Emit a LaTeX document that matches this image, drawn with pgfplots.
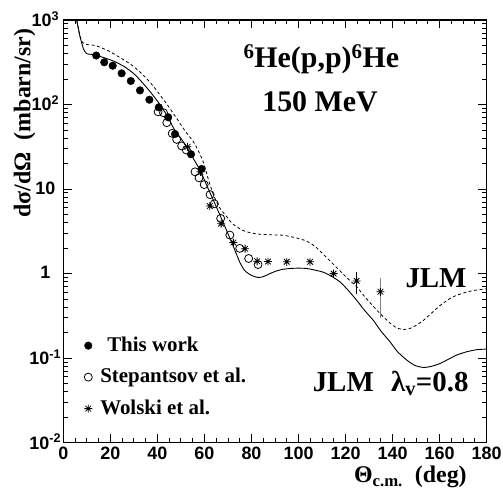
\documentclass[border=0pt]{standalone}
\usepackage{fontspec}
\setmainfont{Liberation Serif}
\setsansfont{Liberation Sans}
\usepackage{pgfplots}
\pgfplotsset{compat=1.18}

% ROOT-style asterisk: + and x together
\pgfdeclareplotmark{ast8}{%
  \pgfpathmoveto{\pgfqpoint{-\pgfplotmarksize}{0pt}}%
  \pgfpathlineto{\pgfqpoint{\pgfplotmarksize}{0pt}}%
  \pgfpathmoveto{\pgfqpoint{0pt}{-\pgfplotmarksize}}%
  \pgfpathlineto{\pgfqpoint{0pt}{\pgfplotmarksize}}%
  \pgfpathmoveto{\pgfqpoint{-0.707\pgfplotmarksize}{-0.707\pgfplotmarksize}}%
  \pgfpathlineto{\pgfqpoint{0.707\pgfplotmarksize}{0.707\pgfplotmarksize}}%
  \pgfpathmoveto{\pgfqpoint{-0.707\pgfplotmarksize}{0.707\pgfplotmarksize}}%
  \pgfpathlineto{\pgfqpoint{0.707\pgfplotmarksize}{-0.707\pgfplotmarksize}}%
  \pgfusepathqstroke}

\begin{document}
\begin{tikzpicture}
\useasboundingbox (-63.3bp,-46.3bp) rectangle (439.7bp,442.7bp);
\begin{axis}[
  scale only axis,
  width=423.4bp, height=422.7bp,
  xmin=0, xmax=180, ymin=0.01, ymax=1000,
  ymode=log,
  xtick={0,20,...,180}, minor x tick num=3,
  ytick={0.01,0.1,1,10,100,1000},
  yticklabels={10\textsuperscript{-2},10\textsuperscript{-1},1,10,10\textsuperscript{2},10\textsuperscript{3}},
  tick align=inside, tick pos=both,
  major tick length=8.5bp, minor tick length=4.5bp,
  axis line style={line width=1.3bp},
  every tick/.style={black, line width=0.9bp},
  /pgf/number format/assume math mode=true,
  ticklabel style={font=\sffamily\bfseries\fontsize{18}{18}\selectfont},
  yticklabel style={anchor=center, xshift=-18bp, yshift=1bp},
  xticklabel style={yshift=-1bp},
  xlabel={Θ\textsubscript{c.m.}\ \ (deg)},
  xlabel style={at={(axis description cs:0.961,-0.095)}, anchor=base east,
    font=\bfseries\fontsize{24}{24}\selectfont},
  ylabel={dσ/dΩ\ \ (mbarn/sr)},
  ylabel style={at={(axis description cs:-0.078,0.988)}, anchor=base east,
    font=\bfseries\fontsize{24}{24}\selectfont},
  legend style={at={(axis description cs:0.042,0.262)}, anchor=north west,
    draw=none, fill=none, font=\bfseries\fontsize{21}{24}\selectfont,
    row sep=8.5bp, nodes={text height=15bp, text depth=4bp}},
  legend cell align=left,
]
% JLM lambda_v = 0.8 (solid)
\addplot[forget plot, black, line width=0.9bp, smooth, tension=0.4] coordinates {
(5.7,1000) (7.1,640) (8.5,462) (9.9,400) (12.8,390) (16,368) (19,345)
(22,321) (26,280) (29.8,234) (33,190) (36.9,142) (40,110) (44,75)
(47,52) (51,36.3) (54.5,25) (58.1,16.8) (61,11) (63.8,7.4) (66.5,5)
(69.5,3.2) (72,2.2) (75.1,1.35) (77,1.1) (78.7,1.0) (80.5,0.94)
(82.8,0.90) (85,0.92) (87.5,0.99) (90,1.06) (93,1.12) (96.4,1.15)
(100,1.16) (103.5,1.15) (107,1.10) (110.5,1.04) (114,0.93) (117.6,0.80)
(121,0.64) (124.7,0.485) (128,0.37) (131.8,0.28) (135,0.21) (138.9,0.156)
(142,0.12) (146,0.095) (149.5,0.082) (153.1,0.0776) (156.5,0.080)
(160.2,0.0865) (164,0.098) (167.3,0.109) (171.5,0.119) (175.8,0.126) (180,0.128)
};
% JLM (dashed)
\addplot[forget plot, black, line width=0.8bp, dash pattern=on 3bp off 2.5bp, smooth, tension=0.4] coordinates {
(5.7,1000) (7.1,640) (8.2,540) (9.5,515) (11.4,508) (13.5,500) (16,472)
(19.9,422) (23,375) (27,321) (30,280) (34,223) (37.5,175) (41.1,130)
(44.5,97) (48.2,68.7) (51.5,50) (55.3,36.3) (57.5,28) (59.5,21) (61.5,13.5)
(63.8,8.6) (66.5,6.0) (69.5,4.7) (71.5,4.0) (73.7,3.58) (76,3.28) (78,3.12)
(82.2,2.95) (88,2.88) (93,2.85) (96.4,2.75) (100,2.6) (103.5,2.42)
(107,2.1) (110.5,1.7) (114,1.36) (117.6,1.08) (121,0.87) (124.7,0.70)
(128,0.54) (131.8,0.41) (135,0.33) (138.9,0.26) (141.5,0.23) (144.6,0.218)
(148,0.228) (151,0.255) (153.1,0.28) (156.5,0.34) (160.2,0.42) (164,0.50)
(167.3,0.556) (171.5,0.605) (175,0.635) (180,0.66)
};
% This work
\addplot[only marks, mark=*, mark size=3.8bp, black] coordinates {
(14.0,380) (17.4,316) (21.0,288) (24.8,234) (28.7,190) (32.6,147)
(36.6,114) (40.6,92.7) (44.6,70.6) (47.5,44.8) (54.3,25.8) (58.8,17.3)
};
\addlegendentry{\hspace{13bp}This work}
% Stepantsov et al.
\addplot[only marks, mark=o, mark size=4bp, black, line width=0.8bp] coordinates {
(40.3,82) (42.6,80) (44.0,61) (46.3,45.6) (48.2,38.7) (50.3,32.4) (52.3,29)
(56.0,16) (57.7,13.6) (59.9,11.3) (62.4,8.6) (64.2,6.7) (66.9,4.5)
(70.8,2.86) (75.0,1.99) (78.8,1.51) (82.8,1.28)
};
\addlegendentry{\hspace{6bp}Stepantsov et al.}
% Wolski et al.
\addplot[only marks, mark=ast8, mark size=4bp, black, line width=0.8bp] coordinates {
(52.8,31.6) (58.3,16) (62.3,6.3) (67.1,3.9) (72.3,2.33) (77.3,1.97)
(82.4,1.40) (87.0,1.39) (95.0,1.38) (104.9,1.38) (114.9,1.0)
};
\addlegendentry{\hspace{6bp}Wolski et al.}
\addplot[forget plot, only marks, mark=ast8, mark size=4bp, black, line width=0.8bp,
  error bars/.cd, y dir=both, y explicit, error mark=none,
  error bar style={line width=0.9bp, black}]
  table[x=x, y=y, y error plus=ep, y error minus=em, row sep=\\] {
x y ep em\\
124.7 0.82 0.23 0.25\\
};
\addplot[forget plot, only marks, mark=ast8, mark size=4bp, black, line width=0.8bp,
  error bars/.cd, y dir=both, y explicit, error mark=none,
  error bar style={line width=1.1bp, gray}]
  table[x=x, y=y, y error plus=ep, y error minus=em, row sep=\\] {
x y ep em\\
134.8 0.61 0.28 0.31\\
};
\node[anchor=base west, font=\bfseries\fontsize{30}{30}\selectfont]
  at (axis description cs:0.4173,0.8888) {\textsuperscript{6}He(p,p)\textsuperscript{6}He};
\node[anchor=base, font=\bfseries\fontsize{30}{30}\selectfont]
  at (axis description cs:0.6063,0.7824) {150 MeV};
\node[anchor=base east, font=\bfseries\fontsize{29}{29}\selectfont]
  at (axis description cs:0.9606,0.3683) {JLM};
\node[anchor=base east, font=\bfseries\fontsize{29}{29}\selectfont]
  at (axis description cs:0.9653,0.120) {JLM\hspace{0.6em}λ\textsubscript{v}=0.8};
\end{axis}
\end{tikzpicture}
\end{document}
